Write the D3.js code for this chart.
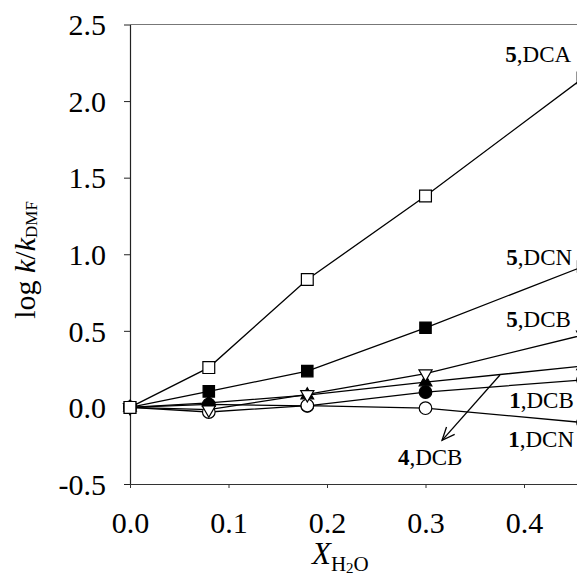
<!DOCTYPE html>
<html>
<head>
<meta charset="utf-8">
<script src="https://cdn.jsdelivr.net/npm/d3@7"></script>
<style>
  body { margin: 0; background: #fff; }
  svg { display: block; font-family: "Liberation Serif", "Times New Roman", serif; }
</style>
</head>
<body>
<div id="chart"></div>
<script>
// water mole fraction points
const xValues = [0, 0.08, 0.18, 0.30, 0.46];

// log k/kDMF for each system
const s5DCA = [0, 0.26, 0.835, 1.38, 2.15];
const s5DCN = [0, 0.105, 0.237, 0.52, 0.92];
const s5DCB = [0, -0.015, 0.085, 0.22, 0.473];
const s4DCB = [0, 0.03, 0.08, 0.165, 0.27];
const s1DCB = [0, 0.02, 0.01, 0.10, 0.18];
const s1DCN = [0, -0.03, 0.012, -0.005, -0.099];

const xTicks = [0, 0.1, 0.2, 0.3, 0.4];
const yTicks = [-0.5, 0, 0.5, 1.0, 1.5, 2.0, 2.5];

// label anchors, in data units
const labels = [
  { num: "5", rest: ",DCA", x: 0.381, y: 2.255 },
  { num: "5", rest: ",DCN", x: 0.382, y: 0.93 },
  { num: "5", rest: ",DCB", x: 0.382, y: 0.525 },
  { num: "1", rest: ",DCB", x: 0.385, y: -0.004 },
  { num: "1", rest: ",DCN", x: 0.384, y: -0.259 },
  { num: "4", rest: ",DCB", x: 0.272, y: -0.376 }
];
const arrow = { x1: 0.3756, y1: 0.2115, x2: 0.3168, y2: -0.215 };

const W = 577, H = 576;
const margin = { top: 24.5, left: 130, bottom: 92 };
const plotBottom = H - margin.bottom; // 484

const svg = d3.select("#chart").append("svg")
  .attr("width", W)
  .attr("height", H);

const x = d3.scaleLinear().domain([0, 0.46]).range([margin.left, margin.left + 0.46 * 985]);
const y = d3.scaleLinear().domain([-0.5, 2.5]).range([plotBottom, margin.top]);

const fmt = d => d.toFixed(1); // plain hyphen for negatives

// top frame line
svg.append("line")
  .attr("x1", margin.left).attr("x2", W)
  .attr("y1", margin.top).attr("y2", margin.top)
  .attr("stroke", "#777").attr("stroke-width", 1);

// y axis
const yAxis = svg.append("g")
  .attr("transform", `translate(${margin.left},0)`)
  .call(d3.axisLeft(y).tickValues(yTicks).tickFormat(fmt)
    .tickSize(6).tickSizeOuter(0).tickPadding(18));
yAxis.select(".domain").attr("stroke", "#222").attr("stroke-width", 1.2);
yAxis.selectAll(".tick line").attr("stroke", "#222");
yAxis.selectAll("text")
  .attr("font-size", 30).attr("fill", "#000")
  .attr("font-family", "Liberation Serif").attr("dy", "0.34em");

// x axis
const xAxis = svg.append("g")
  .attr("transform", `translate(0,${plotBottom})`)
  .call(d3.axisBottom(x).tickValues(xTicks).tickFormat(fmt)
    .tickSize(4).tickSizeOuter(0).tickPadding(24));
xAxis.select(".domain").attr("stroke", "#333").attr("stroke-width", 1.2)
  .attr("d", `M${margin.left},0.5H${W}`);
xAxis.selectAll(".tick line").attr("stroke", "#333");
xAxis.selectAll("text")
  .attr("font-size", 30).attr("fill", "#000")
  .attr("font-family", "Liberation Serif");

// axis titles
const yTitle = svg.append("text")
  .attr("transform", "translate(35,260) rotate(-90)")
  .attr("text-anchor", "middle")
  .attr("font-size", 30);
yTitle.append("tspan").text("log ");
yTitle.append("tspan").attr("font-style", "italic").text("k");
yTitle.append("tspan").text("/");
yTitle.append("tspan").attr("font-style", "italic").text("k");
yTitle.append("tspan").attr("font-size", 17).attr("dy", 2).text("DMF");

const xTitle = svg.append("text")
  .attr("x", 312).attr("y", 564)
  .attr("font-size", 31);
xTitle.append("tspan").attr("font-style", "italic").text("X");
xTitle.append("tspan").attr("font-size", 21).attr("dy", 7).text("H");
xTitle.append("tspan").attr("font-size", 15).attr("dy", 2).text("2");
xTitle.append("tspan").attr("font-size", 21).attr("dy", -2).text("O");

// series
const series = [
  { values: s1DCB, shape: d3.symbolCircle, size: 125, fill: "#000", rot: 0 },
  { values: s4DCB, shape: d3.symbolTriangle, size: 70, fill: "#000", rot: 0 },
  { values: s1DCN, shape: d3.symbolCircle, size: 125, fill: "#fff", rot: 0 },
  { values: s5DCB, shape: d3.symbolTriangle, size: 75, fill: "#fff", rot: 180 },
  { values: s5DCN, shape: d3.symbolSquare, size: 130, fill: "#000", rot: 0 },
  { values: s5DCA, shape: d3.symbolSquare, size: 140, fill: "#fff", rot: 0 }
];

const line = d3.line().x(d => x(d[0])).y(d => y(d[1]));

svg.append("g").selectAll("path")
  .data(series)
  .join("path")
  .attr("d", s => line(xValues.map((v, i) => [v, s.values[i]])))
  .attr("fill", "none")
  .attr("stroke", "#000")
  .attr("stroke-width", 1.3);

series.forEach(s => {
  svg.append("g").selectAll("path")
    .data(xValues.map((v, i) => [v, s.values[i]]))
    .join("path")
    .attr("d", d3.symbol().type(s.shape).size(s.size))
    .attr("transform", d => `translate(${x(d[0])},${y(d[1])}) rotate(${s.rot})`)
    .attr("fill", s.fill)
    .attr("stroke", "#000")
    .attr("stroke-width", 1.2);
});

// labels
labels.forEach(l => {
  const t = svg.append("text")
    .attr("x", x(l.x)).attr("y", y(l.y))
    .attr("font-size", 23);
  t.append("tspan").attr("font-weight", "bold").text(l.num);
  t.append("tspan").text(l.rest);
});

// arrow pointing at the 4,DCB line
const ax1 = x(arrow.x1), ay1 = y(arrow.y1), ax2 = x(arrow.x2), ay2 = y(arrow.y2);
svg.append("line")
  .attr("x1", ax1).attr("y1", ay1).attr("x2", ax2).attr("y2", ay2)
  .attr("stroke", "#000").attr("stroke-width", 1.3);
const ang = Math.atan2(ay2 - ay1, ax2 - ax1);
const headLen = 14, spread = 0.4;
svg.append("path")
  .attr("d", `M${ax2 - headLen * Math.cos(ang - spread)},${ay2 - headLen * Math.sin(ang - spread)}
    L${ax2},${ay2}
    L${ax2 - headLen * Math.cos(ang + spread)},${ay2 - headLen * Math.sin(ang + spread)}`)
  .attr("fill", "none")
  .attr("stroke", "#000")
  .attr("stroke-width", 1.3);
</script>
</body>
</html>
